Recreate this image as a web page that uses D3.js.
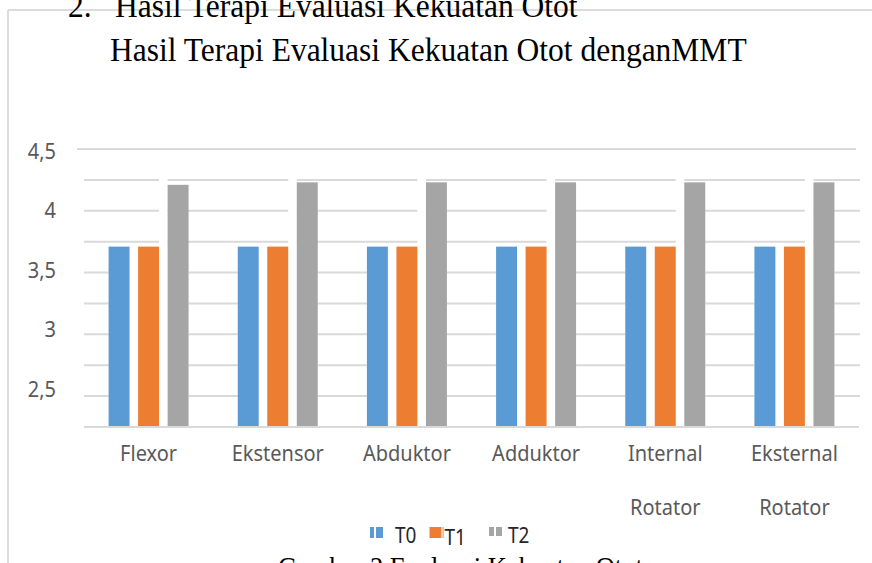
<!DOCTYPE html>
<html>
<head>
<meta charset="utf-8">
<script src="https://cdn.jsdelivr.net/npm/d3@7"></script>
<style>
  html, body { margin: 0; padding: 0; background: #fff; }
  svg { display: block; }
</style>
</head>
<body>
<div id="chart"></div>
<script>
// chart data
const categories = ["Flexor", "Ekstensor", "Abduktor", "Adduktor", "Internal Rotator", "Eksternal Rotator"];
const categoryLines = [["Flexor"], ["Ekstensor"], ["Abduktor"], ["Adduktor"], ["Internal", "Rotator"], ["Eksternal", "Rotator"]];
const seriesNames = ["T0", "T1", "T2"];
const t0Values = [3.71, 3.71, 3.71, 3.71, 3.71, 3.71];
const t1Values = [3.71, 3.71, 3.71, 3.71, 3.71, 3.71];
const t2Values = [4.21, 4.23, 4.23, 4.23, 4.23, 4.23];
const tickLabels = ["2,5", "3", "3,5", "4", "4,5"];
const tickValues = [2.5, 3, 3.5, 4, 4.5];
const gridValues = [2.5, 2.75, 3, 3.25, 3.5, 3.75, 4, 4.25, 4.5];

const colors = ["#5b9bd5", "#ed7d31", "#a5a5a5"];
const seriesValues = [t0Values, t1Values, t2Values];

const W = 872, H = 563;
const svg = d3.select("#chart").append("svg")
    .attr("width", W)
    .attr("height", H);

// frame of the pasted chart object
svg.append("line").attr("x1", 8).attr("x2", W).attr("y1", 10).attr("y2", 10)
    .attr("stroke", "#dcdcdc").attr("stroke-width", 2);
svg.append("line").attr("x1", 8).attr("x2", 8).attr("y1", 10).attr("y2", H)
    .attr("stroke", "#dcdcdc").attr("stroke-width", 2);

// scales
const x0 = d3.scaleBand().domain(categories).range([84, 859]).padding(0);
const groupW = 80;
const x1 = d3.scaleBand().domain(seriesNames).range([0, groupW]).paddingInner(0.29).paddingOuter(0);
const y = d3.scaleLinear().domain([2.25, 4.5]).range([427, 149]);
const yLabel = d3.scaleLinear().domain([2.5, 4.5]).range([389, 151]);
const groupX = c => x0(c) + (x0.bandwidth() - groupW) / 2;

// serif text helper (the scan is a bit stretched vertically)
function serifText(x, yy, str, size) {
  svg.append("text")
      .attr("transform", `translate(${x},${yy}) scale(1,1.1)`)
      .attr("font-family", "'Liberation Serif', 'Times New Roman', serif")
      .attr("font-size", size)
      .attr("fill", "#000")
      .text(str);
}

// gridlines
svg.append("g").selectAll("line")
    .data(gridValues)
    .join("line")
    .attr("x1", d => d === 4.5 ? 77 : 84)
    .attr("x2", d => d === 4.5 ? 856 : 860)
    .attr("y1", d => y(d))
    .attr("y2", d => y(d))
    .attr("stroke", "#d9d9d9")
    .attr("stroke-width", 2);

// white gaps around the bars (gridlines do not run through the groups)
const gaps = svg.append("g");
categories.forEach((c, i) => {
  const gx = groupX(c);
  gaps.append("rect")
      .attr("x", gx)
      .attr("y", y(t1Values[i]))
      .attr("width", groupW)
      .attr("height", y(2.25) - y(t1Values[i]))
      .attr("fill", "#fff");
  gaps.append("rect")
      .attr("x", gx + x1("T1") + x1.bandwidth())
      .attr("y", y(4.3))
      .attr("width", x1("T2") - x1("T1") - x1.bandwidth())
      .attr("height", y(2.25) - y(4.3))
      .attr("fill", "#fff");
});

// bars
const groups = svg.append("g").selectAll("g")
    .data(categories)
    .join("g")
    .attr("transform", c => `translate(${groupX(c)},0)`);

groups.selectAll("rect")
    .data((c, i) => seriesNames.map((s, j) => ({ s, v: seriesValues[j][i], j })))
    .join("rect")
    .attr("x", d => x1(d.s))
    .attr("y", d => y(d.v))
    .attr("width", x1.bandwidth())
    .attr("height", d => y(2.25) - y(d.v))
    .attr("fill", d => colors[d.j]);

// category axis line
svg.append("line").attr("x1", 84).attr("x2", 859).attr("y1", y(2.25)).attr("y2", y(2.25))
    .attr("stroke", "#d9d9d9").attr("stroke-width", 2);

// y tick labels
svg.append("g").selectAll("text")
    .data(tickValues)
    .join("text")
    .attr("transform", d => `translate(56,${yLabel(d)}) scale(1,1.05)`)
    .attr("text-anchor", "end")
    .attr("dy", "0.36em")
    .attr("font-family", "'Noto Sans', sans-serif")
    .attr("font-size", 20)
    .attr("fill", "#595959")
    .text((d, i) => tickLabels[i]);

// category labels
const catG = svg.append("g").selectAll("g")
    .data(categories)
    .join("g");
catG.each(function(c, i) {
  const cx = x0(c) + x0.bandwidth() / 2;
  categoryLines[i].forEach((line, k) => {
    d3.select(this).append("text")
        .attr("transform", `translate(${cx},${461 + k * 54}) scale(1,1.1)`)
        .attr("text-anchor", "middle")
        .attr("font-family", "'Noto Sans', sans-serif")
        .attr("font-size", 20)
        .attr("fill", "#595959")
        .text(line);
  });
});

// legend
const legendX = d3.scalePoint().domain(seriesNames).range([370, 489]);
const textOffset = [25, 15, 19];
const stripe = [{ dx: 4, c: "#fff" }, { dx: 11.5, c: "#f8c9a8" }, { dx: 5, c: "#fff" }];
const leg = svg.append("g").selectAll("g")
    .data(seriesNames)
    .join("g")
    .attr("transform", s => `translate(${legendX(s)},0)`);
leg.append("rect")
    .attr("x", 0).attr("y", 527)
    .attr("width", (s, i) => i === 1 ? 14 : 13)
    .attr("height", (s, i) => i === 2 ? 9 : 11)
    .attr("fill", (s, i) => colors[i]);
leg.append("rect")
    .attr("x", (s, i) => stripe[i].dx).attr("y", 527)
    .attr("width", 2)
    .attr("height", 11)
    .attr("fill", (s, i) => stripe[i].c);
leg.append("text")
    .attr("transform", (s, i) => `translate(${textOffset[i]},${i === 1 ? 545 : 543}) scale(1,1.1)`)
    .attr("font-family", "'Noto Sans', sans-serif")
    .attr("font-size", 19)
    .attr("fill", "#262626")
    .text(s => s);

// document text around the chart
serifText(68, 17, "2.", 31.5);
serifText(115, 17, "Hasil Terapi Evaluasi Kekuatan Otot", 31.5);
serifText(110, 61, "Hasil Terapi Evaluasi Kekuatan Otot denganMMT", 31.5);
serifText(278, 577, "Gambar 2 Evaluasi Kekuatan Otot", 26.5);
</script>
</body>
</html>
